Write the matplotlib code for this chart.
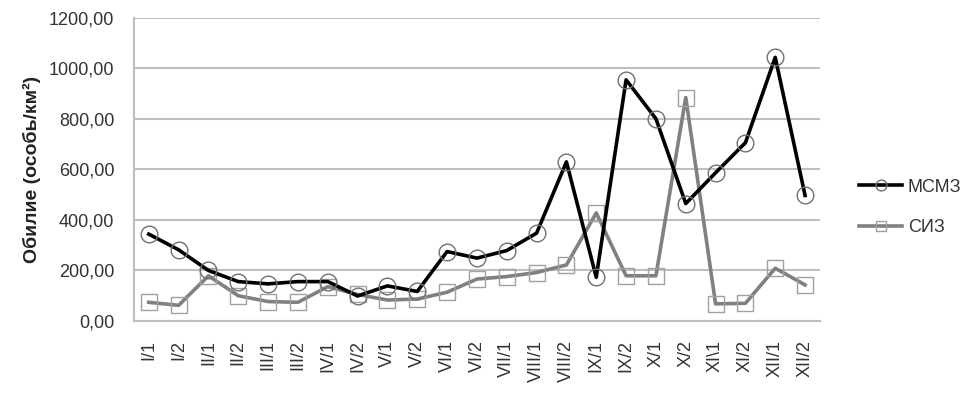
import matplotlib
matplotlib.use("Agg")
import matplotlib.pyplot as plt
from matplotlib.ticker import FuncFormatter

plt.rcParams["font.family"] = ["Liberation Sans", "DejaVu Sans"]

periods = ["I/1", "I/2", "II/1", "II/2", "III/1", "III/2", "IV/1", "IV/2",
           "V/1", "V/2", "VI/1", "VI/2", "VII/1", "VIII/1", "VIII/2", "IX/1",
           "IX/2", "X/1", "X/2", "XI\\1", "XI/2", "XII/1", "XII/2"]
msmz = [344, 282, 200, 156, 147, 156, 156, 99, 139, 117, 275, 249, 279,
        348, 630, 173, 955, 801, 465, 587, 706, 1044, 497]
siz = [74, 62, 179, 100, 77, 74, 136, 105, 83, 87, 114, 166, 176,
       192, 222, 428, 179, 179, 885, 68, 70, 209, 143]

grid_c = "#bfbfbf"
text_c = "#333333"

fig = plt.figure(figsize=(9.63, 3.99), dpi=100)
ax = fig.add_axes([0.139, 0.1955, 0.7125, 0.7595])

x = range(len(periods))
ax.plot(x, msmz, color="black", lw=2.6, marker="o", markersize=12,
        markerfacecolor="none", markeredgecolor="#707070", markeredgewidth=1.0,
        label="МСМЗ", zorder=3)
ax.plot(x, siz, color="#808080", lw=2.6, marker="s", markersize=11,
        markerfacecolor="none", markeredgecolor="#a0a0a0", markeredgewidth=1.0,
        label="СИЗ", zorder=2)

ax.set_xlim(-0.5, len(periods) - 0.5)
ax.set_ylim(0, 1200)
ax.set_yticks(range(0, 1201, 200))
ax.yaxis.set_major_formatter(FuncFormatter(lambda v, p: f"{v:.2f}".replace(".", ",")))
ax.set_xticks(list(x))
ax.set_xticklabels(periods, rotation=90, fontsize=13, color=text_c)
ax.tick_params(axis="y", labelsize=13, labelcolor=text_c, length=0, pad=14)
ax.tick_params(axis="x", length=0, pad=14)

ax.grid(True, axis="y", color=grid_c, lw=1.5)
ax.set_axisbelow(True)
for s in ["top", "right"]:
    ax.spines[s].set_visible(False)
for s in ["left", "bottom"]:
    ax.spines[s].set_color(grid_c)
    ax.spines[s].set_linewidth(1.5)

ax.set_ylabel("Обилие (особь/км²)", fontsize=14, fontweight="bold",
              color="#222222", labelpad=6)

fig.legend(loc="center left", bbox_to_anchor=(0.875, 0.48), frameon=False,
           fontsize=13, handlelength=2.4, labelspacing=1.3, handletextpad=0.3,
           markerscale=0.65, labelcolor=text_c)

fig.savefig("out.png", dpi=100)
